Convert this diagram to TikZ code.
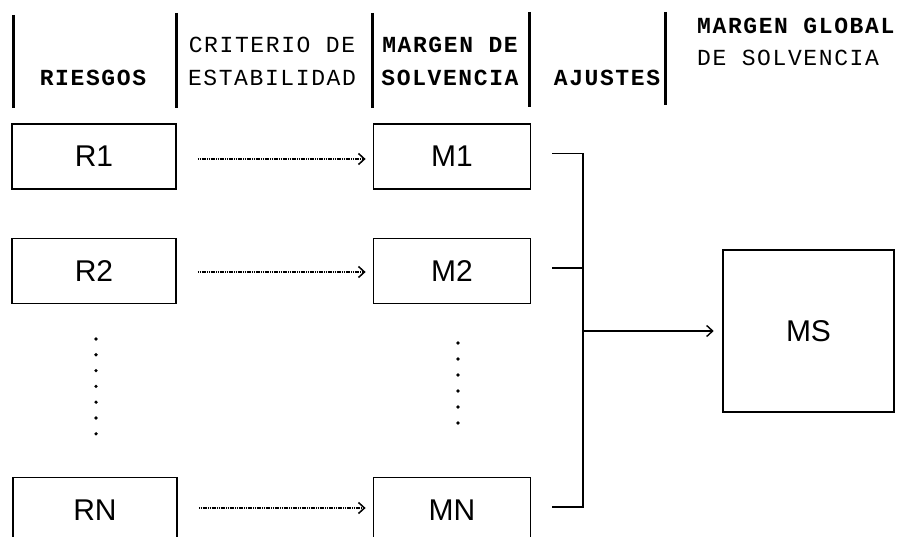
\documentclass[tikz,border=0pt]{standalone}
\usepackage{fontspec}
\setmainfont{Liberation Sans}
\newfontfamily\hdrfont[LetterSpace=7]{Liberation Mono}
\usetikzlibrary{arrows.meta}

\begin{document}
\begin{tikzpicture}[x=1pt,y=-1pt,
  box/.style={draw, line width=1.8pt, inner sep=0pt, minimum width=164pt,
    minimum height=65pt, font=\fontsize{30}{30}\selectfont},
  mbox/.style={box, minimum width=157pt},
  hdr/.style={anchor=base, inner sep=0pt, font=\hdrfont\fontsize{23}{23}\selectfont},
  hdrb/.style={hdr, font=\hdrfont\bfseries\fontsize{23}{23}\selectfont},
  bar/.style={line width=3pt},
  conn/.style={line width=1.4pt},
  tip/.style={-{Straight Barb[length=6pt,width=11pt]}},
  dotarrow/.style={conn, tip, line width=1.5pt, dash pattern=on 1.2pt off 0.6pt,
    shorten <=21pt, shorten >=7pt},
  dotmark/.style={circle, fill, inner sep=0pt, minimum size=3.6pt}
]
\useasboundingbox (0,0) rectangle (903,537);

% column separators of the header
\draw[bar] (13,15) -- (13,108);
\draw[bar] (176,13) -- (176,108);
\draw[bar] (372,13) -- (372,108);
\draw[bar] (529,12) -- (529,107);
\draw[bar] (665,12) -- (665,105);

% header texts
\node[hdrb] (hRiesgos) at (93,86) {RIESGOS};
\node[hdr]  (hCrit1) at (272,53) {CRITERIO DE};
\node[hdr]  (hCrit2) at (272,86) {ESTABILIDAD};
\node[hdrb] (hMarg1) at (450,53) {MARGEN DE};
\node[hdrb] (hMarg2) at (450,86) {SOLVENCIA};
\node[hdrb] (hAjus) at (607,86) {AJUSTES};
\node[hdrb, anchor=base west] (hGlob1) at (697,34) {MARGEN GLOBAL};
\node[hdr, anchor=base west] (hGlob2) at (697,66) {DE SOLVENCIA};

% risk boxes
\node[box] (R1) at (94,156.5) {R1};
\node[box] (R2) at (94,271) {R2};
\node[box] (RN) at (95,510) {RN};

% solvency margin boxes
\node[mbox] (M1) at (452,156.5) {M1};
\node[mbox] (M2) at (452,271) {M2};
\node[mbox] (MN) at (452,510) {MN};

% global margin box
\node[box, line width=2.6pt, minimum width=171pt, minimum height=162pt] (MS) at (808.5,331) {MS};

% ellipsis dots
\foreach \i in {0,...,6} \node[dotmark] (dl\i) at (96,339+15.8*\i) {};
\foreach \i in {0,...,5} \node[dotmark] (dr\i) at (458,343+16*\i) {};

% stability criterion arrows
\draw[dotarrow] ([yshift=-2.5pt]R1.east) -- ([yshift=-2.5pt]M1.west);
\draw[dotarrow] ([yshift=-1pt]R2.east) -- ([yshift=-1pt]M2.west);
\draw[dotarrow] ([yshift=2pt]RN.east) -- ([yshift=2pt]MN.west);

% adjustment bracket
\coordinate (J) at (583,331);
\draw[conn] ([shift={(21,-3)}]M1.east) -| (J);
\draw[conn] ([shift={(21,-3)}]M2.east) -| (J);
\draw[conn] ([shift={(21,-3)}]MN.east) -| (J);
\draw[conn, tip, shorten >=8pt] (J) -- (MS);
\end{tikzpicture}
\end{document}
